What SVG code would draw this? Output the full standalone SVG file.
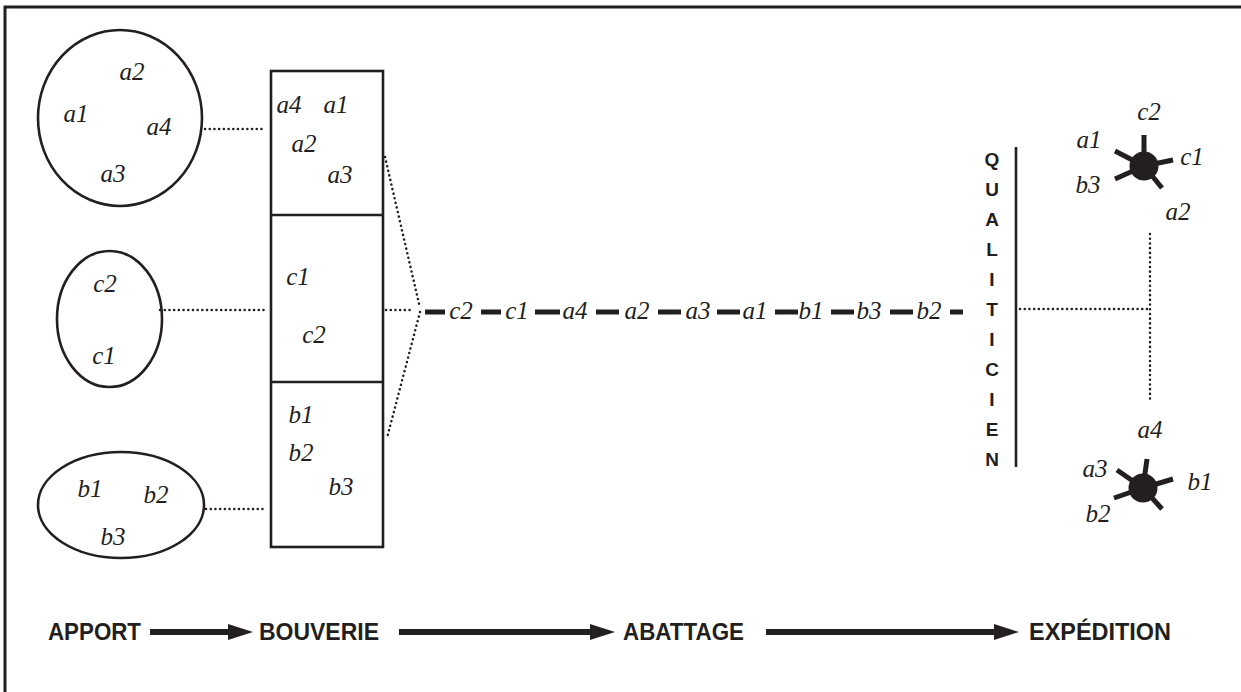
<svg xmlns="http://www.w3.org/2000/svg" width="1241" height="692" viewBox="0 0 1241 692">
<style>
.frame{fill:none;stroke:#231f20;stroke-width:3}
.shape{fill:none;stroke:#231f20;stroke-width:2.6}
.dot{fill:none;stroke:#231f20;stroke-width:2.5;stroke-linecap:round;stroke-dasharray:0.1 4.6}
.lbl{font-family:"Liberation Serif",serif;font-style:italic;font-size:25px;fill:#231f20;text-anchor:middle}
.cap{font-family:"Liberation Sans",Arial,sans-serif;font-weight:bold;font-size:23px;fill:#231f20}
.q{font-family:"Liberation Sans",Arial,sans-serif;font-weight:bold;font-size:19px;fill:#231f20;text-anchor:middle}
.dash{stroke:#231f20;stroke-width:5}
.spoke{stroke:#231f20;stroke-width:5}
.arrow{stroke:#231f20;stroke-width:6}
.head{fill:#231f20}
</style>
<rect width="1241" height="692" fill="#ffffff"/>
<path class="frame" d="M5,692 V7 H1241"/>

<g id="apport-a">
<ellipse class="shape" cx="120" cy="118" rx="82" ry="88"/>
<text class="lbl" x="132" y="80">a2</text>
<text class="lbl" x="76" y="122">a1</text>
<text class="lbl" x="159" y="135">a4</text>
<text class="lbl" x="113" y="182">a3</text>
</g>
<g id="apport-c">
<ellipse class="shape" cx="109.5" cy="319" rx="52.5" ry="68"/>
<text class="lbl" x="105" y="292">c2</text>
<text class="lbl" x="104" y="364">c1</text>
</g>
<g id="apport-b">
<ellipse class="shape" cx="121" cy="505" rx="83" ry="53"/>
<text class="lbl" x="90" y="497">b1</text>
<text class="lbl" x="156" y="503">b2</text>
<text class="lbl" x="113" y="545">b3</text>
</g>

<g id="bouverie">
<rect class="shape" x="271" y="71" width="112" height="476"/>
<line class="shape" x1="271" y1="215" x2="383" y2="215"/>
<line class="shape" x1="271" y1="382" x2="383" y2="382"/>
<text class="lbl" x="289" y="113">a4</text>
<text class="lbl" x="336" y="113">a1</text>
<text class="lbl" x="304" y="152">a2</text>
<text class="lbl" x="340" y="183">a3</text>
<text class="lbl" x="298" y="285">c1</text>
<text class="lbl" x="314" y="343">c2</text>
<text class="lbl" x="301" y="423">b1</text>
<text class="lbl" x="301" y="461">b2</text>
<text class="lbl" x="341" y="495">b3</text>
</g>

<g id="connectors">
<line class="dot" x1="205" y1="129" x2="263" y2="129"/>
<line class="dot" x1="160" y1="310" x2="268" y2="310"/>
<line class="dot" x1="206" y1="509" x2="266" y2="509"/>
<line class="dot" x1="386" y1="310" x2="414" y2="310"/>
<line class="dot" x1="385" y1="157" x2="420" y2="308"/>
<line class="dot" x1="420" y1="312" x2="387" y2="438"/>
<line class="dot" x1="1020" y1="309" x2="1150" y2="309"/>
<line class="dot" x1="1150" y1="234" x2="1150" y2="400"/>
<line class="arrow" x1="150" y1="632" x2="232" y2="632"/>
<polygon class="head" points="228,624 253,632 228,640"/>
<line class="arrow" x1="399" y1="632" x2="594" y2="632"/>
<polygon class="head" points="590,624 615,632 590,640"/>
<line class="arrow" x1="766" y1="632" x2="998" y2="632"/>
<polygon class="head" points="994,624 1019,632 994,640"/>
</g>

<g id="abattage">
<line class="dash" x1="425" y1="312" x2="445" y2="312"/>
<text class="lbl" x="461" y="319">c2</text>
<line class="dash" x1="481" y1="312" x2="501" y2="312"/>
<text class="lbl" x="517" y="319">c1</text>
<line class="dash" x1="535" y1="312" x2="560" y2="312"/>
<text class="lbl" x="575" y="319">a4</text>
<line class="dash" x1="596" y1="312" x2="619" y2="312"/>
<text class="lbl" x="637" y="319">a2</text>
<line class="dash" x1="658" y1="312" x2="681" y2="312"/>
<text class="lbl" x="698" y="319">a3</text>
<line class="dash" x1="717" y1="312" x2="740" y2="312"/>
<text class="lbl" x="755" y="319">a1</text>
<line class="dash" x1="775" y1="312" x2="798" y2="312"/>
<text class="lbl" x="811" y="319">b1</text>
<line class="dash" x1="831" y1="312" x2="854" y2="312"/>
<text class="lbl" x="869" y="319">b3</text>
<line class="dash" x1="890" y1="312" x2="913" y2="312"/>
<text class="lbl" x="929" y="319">b2</text>
<line class="dash" x1="950" y1="312" x2="963" y2="312"/>
</g>

<g id="qualiticien">
<line class="shape" x1="1016" y1="147" x2="1016" y2="467"/>
<text class="q" x="992" y="166">Q</text>
<text class="q" x="992" y="196">U</text>
<text class="q" x="992" y="226">A</text>
<text class="q" x="992" y="256">L</text>
<text class="q" x="992" y="286">I</text>
<text class="q" x="992" y="316">T</text>
<text class="q" x="992" y="346">I</text>
<text class="q" x="992" y="376">C</text>
<text class="q" x="992" y="406">I</text>
<text class="q" x="992" y="436">E</text>
<text class="q" x="992" y="466">N</text>
</g>

<g id="expedition-1">
<line class="spoke" x1="1144" y1="166" x2="1144" y2="135"/>
<line class="spoke" x1="1144" y1="166" x2="1115" y2="151"/>
<line class="spoke" x1="1144" y1="166" x2="1115" y2="179"/>
<line class="spoke" x1="1144" y1="166" x2="1162" y2="188"/>
<line class="spoke" x1="1144" y1="166" x2="1173" y2="160"/>
<circle cx="1144" cy="166" r="14.5" fill="#231f20"/>
<text class="lbl" x="1149" y="120">c2</text>
<text class="lbl" x="1089" y="148">a1</text>
<text class="lbl" x="1192" y="165">c1</text>
<text class="lbl" x="1088" y="193">b3</text>
<text class="lbl" x="1178" y="220">a2</text>
</g>

<g id="expedition-2">
<line class="spoke" x1="1143" y1="488" x2="1147" y2="459"/>
<line class="spoke" x1="1143" y1="488" x2="1117" y2="470"/>
<line class="spoke" x1="1143" y1="488" x2="1173" y2="479"/>
<line class="spoke" x1="1143" y1="488" x2="1114" y2="498"/>
<line class="spoke" x1="1143" y1="488" x2="1162" y2="509"/>
<circle cx="1143" cy="488" r="14.5" fill="#231f20"/>
<text class="lbl" x="1150" y="438">a4</text>
<text class="lbl" x="1095" y="477">a3</text>
<text class="lbl" x="1200" y="490">b1</text>
<text class="lbl" x="1098" y="522">b2</text>
</g>

<g id="stages">
<text class="cap" x="48" y="640" textLength="93" lengthAdjust="spacingAndGlyphs">APPORT</text>
<text class="cap" x="259" y="640" textLength="120" lengthAdjust="spacingAndGlyphs">BOUVERIE</text>
<text class="cap" x="623" y="640" textLength="121" lengthAdjust="spacingAndGlyphs">ABATTAGE</text>
<text class="cap" x="1029" y="640" textLength="142" lengthAdjust="spacingAndGlyphs">EXPÉDITION</text>
</g>
</svg>
